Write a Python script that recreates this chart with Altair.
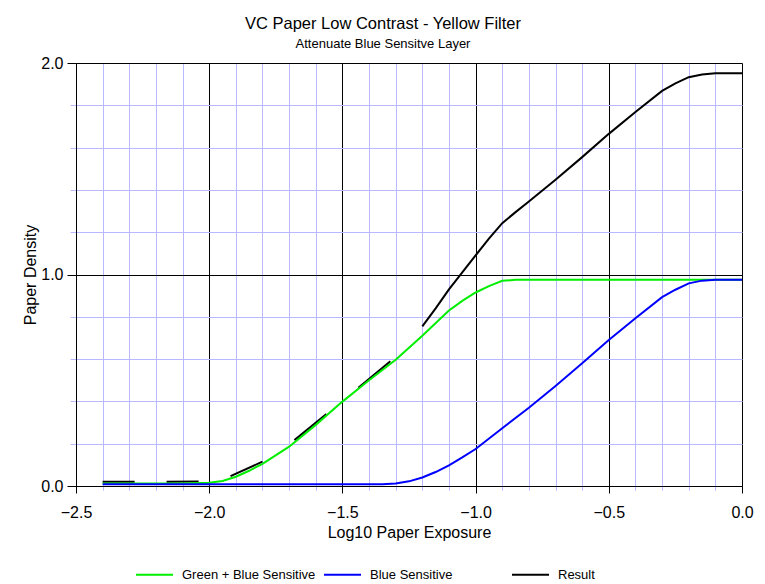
import altair as alt
import pandas as pd

# ---- data ----
# Green + Blue Sensitive
gb_x = [-2.4, -2.3, -2.2, -2.1, -2.0, -1.95, -1.9, -1.85, -1.8, -1.7, -1.6, -1.5,
        -1.4, -1.3, -1.2, -1.1, -1.05, -1.0, -0.95, -0.9, -0.85, -0.8, -0.6, -0.4,
        -0.2, 0.0]
gb_y = [0.012, 0.012, 0.012, 0.012, 0.015, 0.024, 0.044, 0.072, 0.105, 0.186, 0.289,
        0.399, 0.50, 0.597, 0.71, 0.83, 0.875, 0.915, 0.945, 0.970, 0.975, 0.975,
        0.975, 0.975, 0.975, 0.975]

# Blue Sensitive
b_x = [-2.4, -2.0, -1.5, -1.35, -1.3, -1.25, -1.2, -1.15, -1.1, -1.05, -1.0, -0.9,
       -0.8, -0.7, -0.6, -0.5, -0.4, -0.3, -0.25, -0.2, -0.15, -0.1, 0.0]
b_y = [0.008, 0.008, 0.008, 0.008, 0.012, 0.022, 0.04, 0.066, 0.098, 0.135, 0.175,
       0.273, 0.37, 0.473, 0.58, 0.69, 0.793, 0.893, 0.928, 0.958, 0.971, 0.975, 0.975]

# Result (broken segments at low exposure, continuous above -1.2)
r_x = [-2.40, -2.28, -2.16, -2.04, -1.92, -1.80, -1.68, -1.56, -1.44, -1.32,
       -1.20, -1.15, -1.10, -1.05, -1.00, -0.95, -0.90, -0.85, -0.80, -0.70, -0.60,
       -0.50, -0.40, -0.30, -0.25, -0.20, -0.15, -0.10, 0.00]
r_y = [0.020, 0.020, 0.020, 0.021, 0.047, 0.115, 0.217, 0.340, 0.465, 0.590,
       0.755, 0.84, 0.93, 1.01, 1.09, 1.17, 1.243, 1.295, 1.345, 1.448, 1.555,
       1.665, 1.768, 1.868, 1.904, 1.933, 1.946, 1.952, 1.952]
r_seg = [0, 0, 1, 1, 2, 2, 3, 3, 4, 4] + [5] * 19

series_names = ["Green + Blue Sensitive", "Blue Sensitive", "Result"]
series_colors = ["#00ee00", "#0000ff", "#000000"]
series_widths = [2, 2, 2.5]

x_ticks = [round(-2.5 + 0.1 * i, 1) for i in range(26)]
y_ticks = [round(0.2 * i, 1) for i in range(11)]

rows = []
for x, y, s in zip(r_x, r_y, r_seg):
    rows.append({"x": x, "y": y, "series": "Result", "seg": f"r{s}", "z": 0})
for x, y in zip(gb_x, gb_y):
    rows.append({"x": x, "y": y, "series": "Green + Blue Sensitive", "seg": "g", "z": 1})
for x, y in zip(b_x, b_y):
    rows.append({"x": x, "y": y, "series": "Blue Sensitive", "seg": "b", "z": 2})
df = pd.DataFrame(rows)

FONT = "Liberation Sans"
xmaj = "abs(datum.value*2 - round(datum.value*2)) < 0.001"
ymaj = "abs(datum.value - round(datum.value)) < 0.001"
MINOR = "#b8b8ff"

x_axis = alt.Axis(
    values=x_ticks,
    title="Log10 Paper Exposure",
    labelExpr=f"({xmaj}) ? format(datum.value, '.1f') : ''",
    labelOverlap=False, labelFlush=False, labelBound=False,
    grid=True,
    gridColor={"condition": {"test": xmaj, "value": "#000000"}, "value": MINOR},
    tickColor={"condition": {"test": xmaj, "value": "#000000"}, "value": MINOR},
    tickSize={"condition": {"test": xmaj, "value": 7}, "value": 4},
    gridWidth=1, tickWidth=1,
    domainColor="#000000",
    labelFont=FONT, labelFontSize=16, labelColor="#000000", labelPadding=11,
    titleFont=FONT, titleFontSize=16, titleFontWeight="normal", titleColor="#000000",
    titlePadding=4,
)
y_axis = alt.Axis(
    values=y_ticks,
    title="Paper Density",
    labelExpr=f"({ymaj}) ? format(datum.value, '.1f') : ''",
    labelOverlap=False, labelFlush=False, labelBound=False,
    grid=True,
    gridColor={"condition": {"test": ymaj, "value": "#000000"}, "value": MINOR},
    tickColor={"condition": {"test": ymaj, "value": "#000000"}, "value": MINOR},
    tickSize={"condition": {"test": ymaj, "value": 9}, "value": 6},
    gridWidth=1, tickWidth=1,
    domainColor="#000000",
    labelFont=FONT, labelFontSize=16, labelColor="#000000", labelPadding=4,
    titleFont=FONT, titleFontSize=16, titleFontWeight="normal", titleColor="#000000",
    titlePadding=2,
)

chart = alt.Chart(df).mark_line().encode(
    x=alt.X("x:Q", scale=alt.Scale(domain=[-2.5, 0.0], nice=False, zero=False), axis=x_axis),
    y=alt.Y("y:Q", scale=alt.Scale(domain=[0.0, 2.0], nice=False, zero=False), axis=y_axis),
    color=alt.Color(
        "series:N",
        scale=alt.Scale(domain=series_names, range=series_colors),
        legend=alt.Legend(
            title=None, orient="none", legendX=59, legendY=492,
            direction="horizontal", columns=3, gridAlign="all",
            symbolType="stroke", symbolSize=1369, symbolStrokeWidth=2,
            labelFont=FONT, labelFontSize=13, labelColor="#000000",
            labelOffset=8, columnPadding=4,
        ),
    ),
    strokeWidth=alt.StrokeWidth(
        "series:N",
        scale=alt.Scale(domain=series_names, range=series_widths),
        legend=None,
    ),
    detail="seg:N",
    order=alt.Order("z:Q"),
).properties(
    width=666, height=423,
    autosize=alt.AutoSizeParams(type="none"),
    padding={"left": 68, "top": 55, "right": 15, "bottom": 98},
    title=alt.TitleParams(
        "VC Paper Low Contrast - Yellow Filter",
        subtitle="Attenuate Blue Sensitve Layer",
        font=FONT, fontSize=16.5, fontWeight="normal", color="#000000",
        subtitleFont=FONT, subtitleFontSize=13, subtitleColor="#000000",
        anchor="middle", dx=-26, offset=4, subtitlePadding=6,
    ),
).configure_view(stroke=None).configure(background="white")

chart.save("out.html", embed_options={"renderer": "svg", "actions": False})
